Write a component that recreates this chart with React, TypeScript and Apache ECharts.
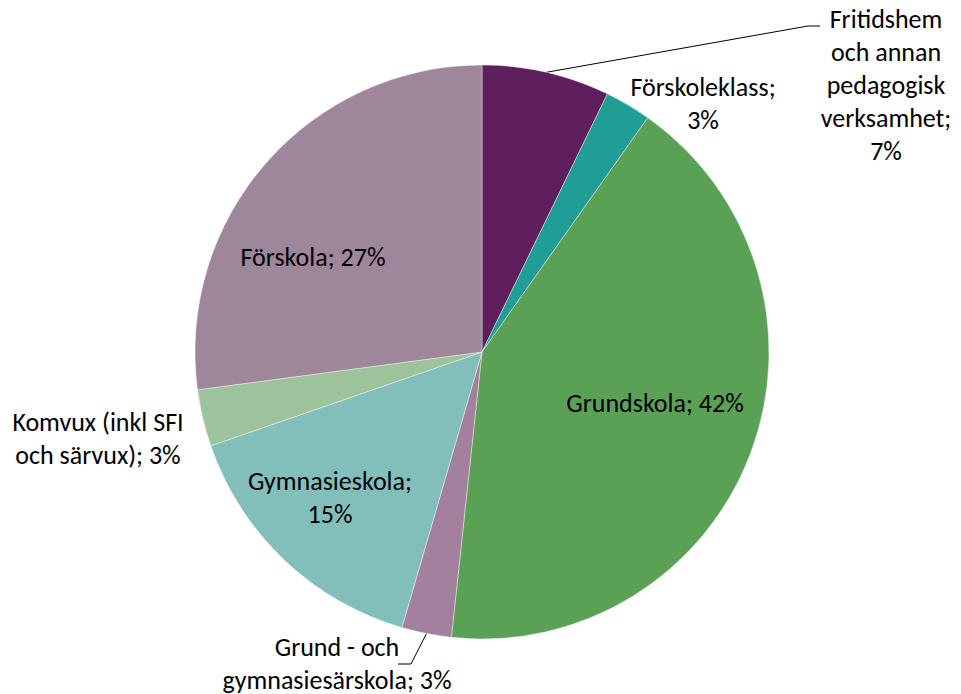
import React, { useEffect, useRef } from "react";
import * as echarts from "echarts";

const categories = [
  "Fritidshem\noch annan\npedagogisk\nverksamhet",
  "Förskoleklass",
  "Grundskola",
  "Grund - och\ngymnasiesärskola",
  "Gymnasieskola",
  "Komvux (inkl SFI\noch särvux)",
  "Förskola",
];
const values = [7.2, 2.6, 41.9, 2.8, 15.2, 3.2, 27.1];
const percentLabels = ["7%", "3%", "42%", "3%", "15%", "3%", "27%"];
const labelSeparators = [";\n", ";\n", "; ", "; ", ";\n", "; ", "; "];
const colors = ["#5E1F5C", "#209E95", "#5AA155", "#A3809D", "#82BFBA", "#9DC39A", "#9E879B"];
const labelPos: [number, number][] = [
  [886, 85],
  [703, 103],
  [655, 403],
  [337, 663],
  [330, 497],
  [98, 438],
  [313, 257],
];
// leader line bend / end points (annotation layout)
const leaderEnds: ([number, number][] | null)[] = [
  [[808, 26], [820, 26]],
  null,
  null,
  [[411, 664], [398, 664]],
  null,
  null,
  null,
];

const CX = 482;
const CY = 352;
const R = 287;

export default function App() {
  const ref = useRef<HTMLDivElement>(null);
  useEffect(() => {
    document.body.style.margin = "0";
    const chart = echarts.init(ref.current!, null, { renderer: "svg" });
    const total = values.reduce((a, b) => a + b, 0);
    const midAngles: number[] = [];
    let acc = 0;
    values.forEach((v) => {
      midAngles.push(((acc + v / 2) / total) * Math.PI * 2);
      acc += v;
    });
    chart.setOption({
      animation: false,
      backgroundColor: "#ffffff",
      series: [
        {
          type: "pie",
          center: [CX, CY],
          radius: R,
          startAngle: 90,
          clockwise: true,
          avoidLabelOverlap: false,
          itemStyle: { borderColor: "#ffffff", borderWidth: 0.4 },
          label: {
            show: true,
            position: "outside",
            color: "#000000",
            fontFamily: "Carlito, Calibri, Lato, sans-serif",
            fontSize: 26,
            lineHeight: 33,
            align: "center",
          },
          labelLine: { lineStyle: { color: "#000000", width: 1 }, length: 10, length2: 10 },
          labelLayout: (p: any) => {
            const i = p.dataIndex;
            const ends = leaderEnds[i];
            const res: any = {
              x: labelPos[i][0],
              y: labelPos[i][1],
              align: "center",
              verticalAlign: "middle",
            };
            if (ends) {
              const a = midAngles[i];
              const start: [number, number] = [CX + R * Math.sin(a), CY - R * Math.cos(a)];
              res.labelLinePoints = [start, ends[0], ends[1]];
            }
            return res;
          },
          data: categories.map((name, i) => ({
            name,
            value: values[i],
            itemStyle: { color: colors[i] },
            label: {
              formatter: name + labelSeparators[i] + percentLabels[i],
            },
            labelLine: { show: !!leaderEnds[i] },
          })),
        },
      ],
    });
    return () => chart.dispose();
  }, []);
  return <div ref={ref} style={{ width: 961, height: 694 }} />;
}
